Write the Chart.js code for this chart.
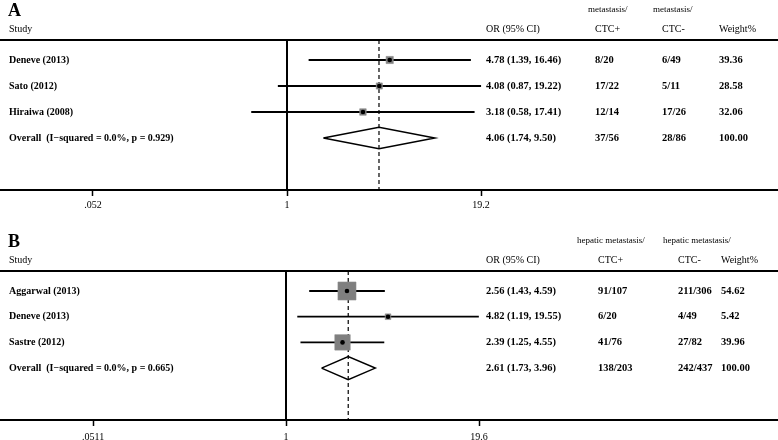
<!DOCTYPE html>
<html>
<head>
<meta charset="utf-8">
<script src="https://cdn.jsdelivr.net/npm/chart.js@4.4.1/dist/chart.umd.min.js"></script>
<style>
  body { margin: 0; background: #fff; }
  canvas { display: block; }
</style>
</head>
<body>
<canvas id="chartA" width="778" height="220"></canvas>
<canvas id="chartB" width="778" height="220"></canvas>
<script>
// Panel A: metastasis
const studiesA = ['Deneve (2013)', 'Sato (2012)', 'Hiraiwa (2008)'];
const orA = [4.78, 4.08, 3.18];
const loA = [1.39, 0.87, 0.58];
const hiA = [16.46, 19.22, 17.41];
const posA = ['8/20', '17/22', '12/14'];
const negA = ['6/49', '5/11', '17/26'];
const weightA = [39.36, 28.58, 32.06];
const overallA = { label: 'Overall  (I\u2212squared = 0.0%, p = 0.929)', or: 4.06, lo: 1.74, hi: 9.50, pos: '37/56', neg: '28/86', weight: 100.00 };
const ticksA = [0.052, 1, 19.2];
const tickLabelsA = ['.052', '1', '19.2'];

// Panel B: hepatic metastasis
const studiesB = ['Aggarwal (2013)', 'Deneve (2013)', 'Sastre (2012)'];
const orB = [2.56, 4.82, 2.39];
const loB = [1.43, 1.19, 1.25];
const hiB = [4.59, 19.55, 4.55];
const posB = ['91/107', '6/20', '41/76'];
const negB = ['211/306', '4/49', '27/82'];
const weightB = [54.62, 5.42, 39.96];
const overallB = { label: 'Overall  (I\u2212squared = 0.0%, p = 0.665)', or: 2.61, lo: 1.73, hi: 3.96, pos: '138/203', neg: '242/437', weight: 100.00 };
const ticksB = [0.0511, 1, 19.6];
const tickLabelsB = ['.0511', '1', '19.6'];

const SERIF = '"Liberation Serif", "Times New Roman", serif';
const fmt = v => v.toFixed(2);

function forest(id, cfg) {
  const n = cfg.studies.length;
  const yMin = 1 - 20 / cfg.rowH;
  const yMax = 1 + (cfg.bottom - cfg.top - 20) / cfg.rowH;
  // log axis range chosen so that 1 sits at oneX and the last tick at lastX
  const ppd = (cfg.lastX - cfg.oneX) / Math.log10(cfg.ticks[cfg.ticks.length - 1]);
  const xMin = Math.pow(10, -cfg.oneX / ppd);
  const xMax = Math.pow(10, (778 - cfg.oneX) / ppd);

  const datasets = [];
  cfg.studies.forEach((s, i) => {
    datasets.push({
      type: 'line', order: 3, data: [{ x: cfg.lo[i], y: i + 1 }, { x: cfg.hi[i], y: i + 1 }],
      borderColor: '#000', borderWidth: 1.8, pointRadius: 0
    });
  });
  datasets.push({
    type: 'scatter', order: 2,
    data: cfg.or.map((v, i) => ({ x: v, y: i + 1 })),
    pointStyle: 'rect',
    pointRadius: cfg.weight.map(w => cfg.boxK * Math.sqrt(w) / Math.SQRT2),
    backgroundColor: '#7f7f7f', borderColor: '#8c8c8c', borderWidth: 0.6
  });
  datasets.push({
    type: 'scatter', order: 1,
    data: cfg.or.map((v, i) => ({ x: v, y: i + 1 })),
    pointStyle: 'circle', pointRadius: 2.3,
    backgroundColor: '#000', borderColor: '#000', borderWidth: 0
  });
  const o = cfg.overall, oy = n + 1, h = cfg.diamondH;
  datasets.push({
    type: 'line', order: 4,
    data: [{ x: o.lo, y: oy }, { x: o.or, y: oy - h }, { x: o.hi, y: oy }, { x: o.or, y: oy + h }, { x: o.lo, y: oy }],
    borderColor: '#000', borderWidth: 1.5, pointRadius: 0, tension: 0, fill: false
  });
  datasets.push({
    type: 'line', order: 5, data: [{ x: 1, y: yMin }, { x: 1, y: yMax }],
    borderColor: '#000', borderWidth: 2, pointRadius: 0
  });
  datasets.push({
    type: 'line', order: 6, data: [{ x: o.or, y: yMin }, { x: o.or, y: yMax }],
    borderColor: '#000', borderWidth: 1.2, borderDash: [4, 3], pointRadius: 0
  });

  const textPlugin = {
    id: 'forestText',
    afterDraw(chart) {
      const ctx = chart.ctx;
      const yS = chart.scales.y;
      const area = chart.chartArea;
      ctx.save();
      // top rule
      ctx.strokeStyle = '#000';
      ctx.lineWidth = 2;
      ctx.beginPath();
      ctx.moveTo(0, area.top);
      ctx.lineTo(778, area.top);
      ctx.stroke();

      ctx.fillStyle = '#000';
      ctx.textBaseline = 'middle';
      ctx.textAlign = 'left';
      ctx.font = 'bold 18px ' + SERIF;
      ctx.fillText(cfg.panel, 8, area.top - 29);

      ctx.font = '10px ' + SERIF;
      const hy = area.top - 11;
      ctx.fillText('Study', 9, hy);
      ctx.fillText('OR (95% CI)', cfg.cols[0], hy);
      ctx.fillText('CTC+', cfg.hdrX[0], hy);
      ctx.fillText('CTC-', cfg.hdrX[1], hy);
      ctx.fillText('Weight%', cfg.cols[3], hy);
      ctx.font = '9px ' + SERIF;
      ctx.fillText(cfg.group, cfg.groupX[0], area.top - 30);
      ctx.fillText(cfg.group, cfg.groupX[1], area.top - 30);

      const rows = cfg.studies.map((s, i) => ({
        label: s, or: cfg.or[i], lo: cfg.lo[i], hi: cfg.hi[i],
        pos: cfg.pos[i], neg: cfg.neg[i], weight: cfg.weight[i]
      }));
      rows.push(o);
      rows.forEach((r, i) => {
        const y = yS.getPixelForValue(i + 1);
        ctx.font = 'bold 10px ' + SERIF;
        ctx.fillText(r.label, 9, y);
        ctx.font = 'bold 10.5px ' + SERIF;
        ctx.fillText(`${fmt(r.or)} (${fmt(r.lo)}, ${fmt(r.hi)})`, cfg.cols[0], y);
        ctx.fillText(r.pos, cfg.cols[1], y);
        ctx.fillText(r.neg, cfg.cols[2], y);
        ctx.fillText(fmt(r.weight), cfg.cols[3], y);
      });
      ctx.restore();
    }
  };

  new Chart(document.getElementById(id), {
    type: 'line',
    data: { datasets },
    options: {
      responsive: false,
      animation: false,
      layout: { autoPadding: false, padding: { top: cfg.top, left: 0, right: 0, bottom: 0 } },
      plugins: { legend: { display: false }, tooltip: { enabled: false } },
      scales: {
        x: {
          type: 'logarithmic',
          min: xMin, max: xMax, bounds: 'data',
          border: { display: true, color: '#000', width: 2 },
          grid: { drawOnChartArea: false, drawTicks: true, tickLength: 6, tickWidth: 1.5, tickColor: '#000' },
          afterBuildTicks: s => { s.ticks = cfg.ticks.map(v => ({ value: v })); },
          afterFit: s => { s.height = cfg.axisH; s.paddingLeft = 0; s.paddingRight = 0; },
          ticks: {
            autoSkip: false, maxRotation: 0, padding: cfg.tickPad, color: '#000',
            font: { family: SERIF, size: 10 },
            callback: v => cfg.tickLabels[cfg.ticks.indexOf(v)]
          }
        },
        y: { type: 'linear', display: false, reverse: true, min: yMin, max: yMax }
      }
    },
    plugins: [textPlugin]
  });
}

forest('chartA', {
  panel: 'A', group: 'metastasis/', groupX: [588, 653], hdrX: [595, 662],
  studies: studiesA, or: orA, lo: loA, hi: hiA, pos: posA, neg: negA, weight: weightA,
  overall: overallA, ticks: ticksA, tickLabels: tickLabelsA,
  top: 40, bottom: 190, axisH: 30, tickPad: 3, rowH: 26, oneX: 287, lastX: 481,
  boxK: 1.15, diamondH: 0.41, cols: [486, 595, 662, 719]
});

forest('chartB', {
  panel: 'B', group: 'hepatic metastasis/', groupX: [577, 663], hdrX: [598, 678],
  studies: studiesB, or: orB, lo: loB, hi: hiB, pos: posB, neg: negB, weight: weightB,
  overall: overallB, ticks: ticksB, tickLabels: tickLabelsB,
  top: 51, bottom: 200, axisH: 20, tickPad: 5, rowH: 25.7, oneX: 286, lastX: 479,
  boxK: 2.44, diamondH: 0.45, cols: [486, 598, 678, 721]
});
</script>
</body>
</html>
